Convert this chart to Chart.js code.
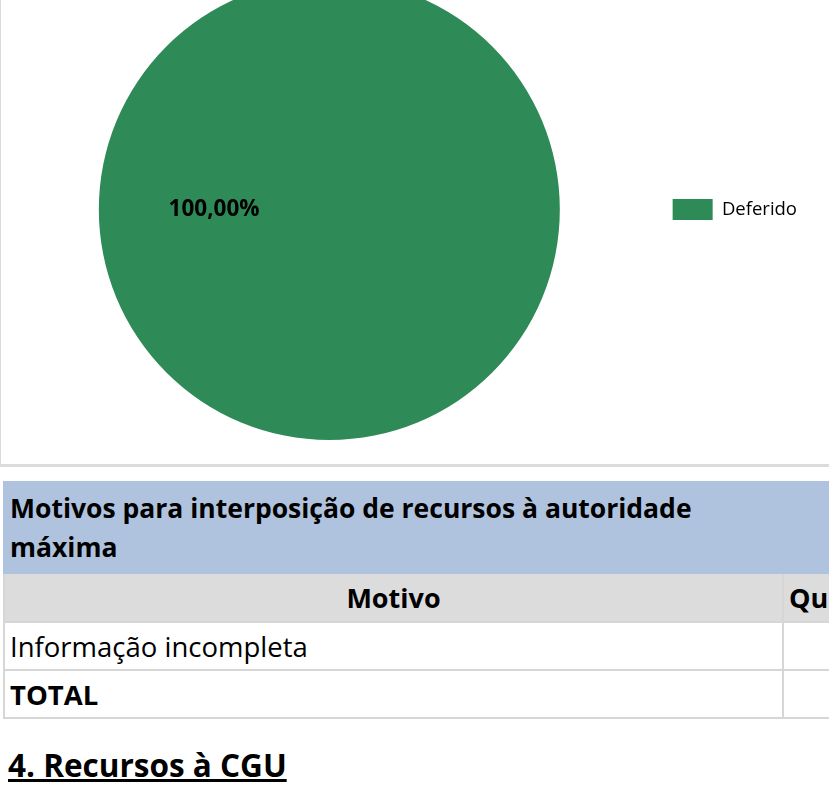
<!DOCTYPE html>
<html lang="pt-BR">
<head>
<meta charset="utf-8">
<script src="https://cdn.jsdelivr.net/npm/chart.js@4.4.1/dist/chart.umd.min.js"></script>
<style>
  html, body { margin: 0; padding: 0; background: #fff; }
  body { width: 829px; height: 787px; overflow: hidden; position: relative;
         font-family: "Open Sans", sans-serif; color: #000; }
  #chartBox { position: absolute; left: 0; top: -31px; width: 829px; height: 495px; overflow: hidden;
              border-left: 1px solid #d9d9d9; border-bottom: 3px solid #dcdcdc; }
  #chartWrap { position: absolute; left: -5px; top: 0; width: 836px; height: 495px; }
  #pieChart { display: block; }
  table { position: absolute; left: 3px; top: 481px; width: 1000px; border-collapse: collapse; }
  td { border: 2px solid #d6d6d6; padding: 0 5px; font-size: 27px; }
  .title { background: #afc3de; font-weight: bold; height: 89px; border-color: #afc3de; vertical-align: top; }
  .title div { line-height: 39px; padding-top: 6px; height: 83px; font-size: 26.5px; }
  .head td { background: #dcdcdc; font-weight: bold; text-align: center; height: 47px; }
  .row td { height: 46px; }
  .row td:first-child { font-size: 27.5px; }
  .bold { font-weight: bold; }
  h2 { position: absolute; left: 8px; top: 743px; margin: 0; font-size: 31.5px; text-decoration: underline; font-weight: bold; }
</style>
</head>
<body>
<div id="chartBox"><div id="chartWrap"><canvas id="pieChart"></canvas></div></div>

<table>
  <tr><td class="title" colspan="2"><div>Motivos para interposição de recursos à autoridade<br>máxima</div></td></tr>
  <tr class="head"><td style="width:767px">Motivo</td><td style="text-align:left">Quantidade</td></tr>
  <tr class="row"><td>Informação incompleta</td><td></td></tr>
  <tr class="row"><td class="bold">TOTAL</td><td></td></tr>
</table>

<h2>4. Recursos à CGU</h2>

<script>
const categories = ['Deferido'];
const values = [1];
const percentLabels = ['100,00%'];
const sliceColors = ['#2e8b57'];

// draws the percentage inside the slice, left of centre like the spreadsheet does
const pieLabels = {
    id: 'pieLabels',
    afterDatasetsDraw(chart) {
        const ctx = chart.ctx;
        const arcs = chart.getDatasetMeta(0).data;
        ctx.save();
        ctx.font = 'bold 22.5px "Open Sans", sans-serif';
        ctx.fillStyle = '#000';
        ctx.textAlign = 'center';
        ctx.textBaseline = 'middle';
        arcs.forEach((arc, i) => {
            const x = arc.x - arc.outerRadius * 0.5;
            const y = arc.y;
            ctx.fillText(percentLabels[i], x, y);
        });
        ctx.restore();
    }
};

const ctx1 = document.getElementById('pieChart').getContext('2d');
const pieChart = new Chart(ctx1, {
    type: 'pie',
    data: {
        labels: categories,
        datasets: [{
            data: values,
            backgroundColor: sliceColors,
            borderWidth: 0
        }]
    },
    options: {
        responsive: true,
        maintainAspectRatio: false,
        animation: false,
        layout: { padding: { top: 10, bottom: 24, left: 0, right: 25 } },
        plugins: {
            tooltip: { enabled: false },
            legend: {
                position: 'right',
                labels: {
                    boxWidth: 40,
                    boxHeight: 21,
                    padding: 10,
                    color: '#000',
                    font: { size: 18.5, family: '"Open Sans", sans-serif' }
                }
            }
        }
    },
    plugins: [pieLabels]
});
</script>
</body>
</html>
